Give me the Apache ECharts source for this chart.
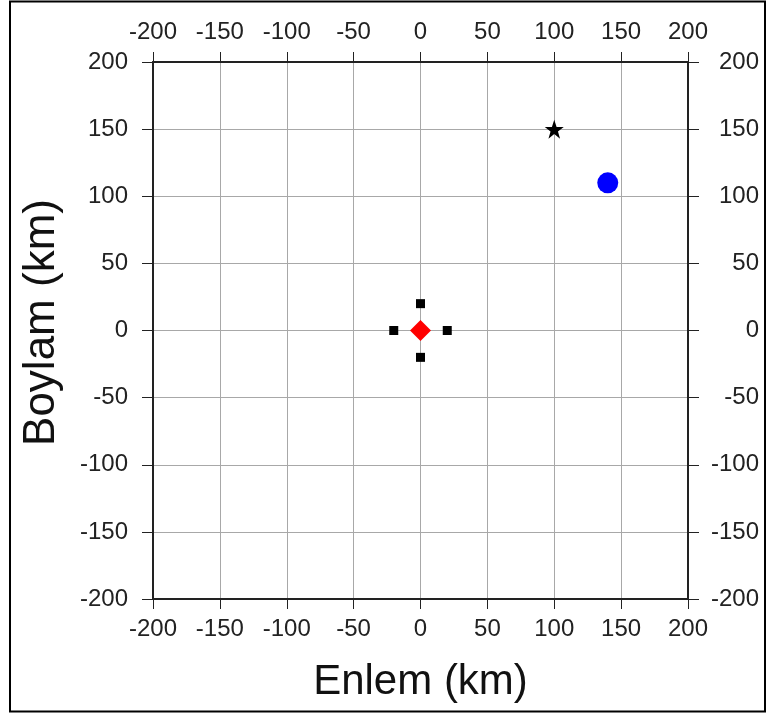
<!DOCTYPE html>
<html>
<head>
<meta charset="utf-8">
<script src="https://cdn.jsdelivr.net/npm/echarts@6/dist/echarts.min.js"></script>
<style>
html,body{margin:0;padding:0;background:#fff;}
#chart{width:767px;height:713px;}
</style>
</head>
<body>
<div id="chart"></div>
<script>
// Data (km)
var axisMin = -200, axisMax = 200, axisStep = 50;
var centerPoint = [[0, 0]];                        // red diamond
var stationPoints = [[0, 20], [0, -20], [20, 0], [-20, 0]]; // black squares
var starPoint = [[100, 150]];                      // black star
var bluePoint = [[140, 110]];                      // blue circle
var xTitle = 'Enlem (km)';
var yTitle = 'Boylam (km)';

var FONT = "'Liberation Sans', Arial, Helvetica, sans-serif";
var starPath = 'path://M50,0 L61.8,35.1 L98.1,35.1 L68.8,56.7 L79.4,90.9 L50,69.1 L20.6,90.9 L31.2,56.7 L1.9,35.1 L38.2,35.1 Z';

var chart = echarts.init(document.getElementById('chart'), null, {renderer: 'canvas'});

function baseAxis(extra) {
  var a = {
    type: 'value', min: axisMin, max: axisMax, interval: axisStep,
    axisLine: {show: true, onZero: false, lineStyle: {color: '#222', width: 2}},
    axisTick: {show: true, inside: false, length: 10, lineStyle: {color: '#222', width: 1}},
    axisLabel: {show: true, color: '#222', fontSize: 24, fontFamily: FONT, margin: 18},
    splitLine: {show: false}
  };
  for (var k in extra) {
    if (typeof extra[k] === 'object' && a[k] && !Array.isArray(extra[k])) {
      for (var j in extra[k]) a[k][j] = extra[k][j];
    } else a[k] = extra[k];
  }
  return a;
}

var option = {
  backgroundColor: '#fff',
  animation: false,
  grid: {left: 153, top: 62, width: 535, height: 537, containLabel: false},
  xAxis: [
    baseAxis({position: 'bottom',
      name: xTitle, nameLocation: 'middle', nameGap: 62,
      nameTextStyle: {fontSize: 42, color: '#111', fontFamily: FONT},
      splitLine: {show: true, lineStyle: {color: '#a8a8a8', width: 1}}}),
    baseAxis({position: 'top'})
  ],
  yAxis: [
    baseAxis({position: 'left',
      name: yTitle, nameLocation: 'middle', nameGap: 89, nameRotate: 90,
      nameTextStyle: {fontSize: 44, color: '#111', fontFamily: FONT, padding: [0, 0, 0, 16]},
      axisTick: {length: 11},
      axisLabel: {margin: 25},
      splitLine: {show: true, lineStyle: {color: '#a8a8a8', width: 1}}}),
    baseAxis({position: 'right', axisTick: {length: 11},
      axisLabel: {margin: 71, align: 'right'}})
  ],
  series: [
    {type: 'scatter', data: stationPoints, symbol: 'rect', symbolSize: 9,
     itemStyle: {color: '#000', opacity: 1}, z: 3},
    {type: 'scatter', data: centerPoint, symbol: 'diamond', symbolSize: 21,
     itemStyle: {color: '#ff0000', opacity: 1}, z: 4},
    {type: 'scatter', data: starPoint, symbol: starPath, symbolSize: 19,
     itemStyle: {color: '#000', opacity: 1}, z: 4},
    {type: 'scatter', data: bluePoint, symbol: 'circle', symbolSize: 21,
     itemStyle: {color: '#0000ff', opacity: 1}, z: 4}
  ],
  graphic: [{
    type: 'rect', silent: true, z: 100,
    shape: {x: 10, y: 1.5, width: 755, height: 710},
    style: {fill: 'none', stroke: '#000', lineWidth: 2}
  }]
};
chart.setOption(option);
</script>
</body>
</html>
